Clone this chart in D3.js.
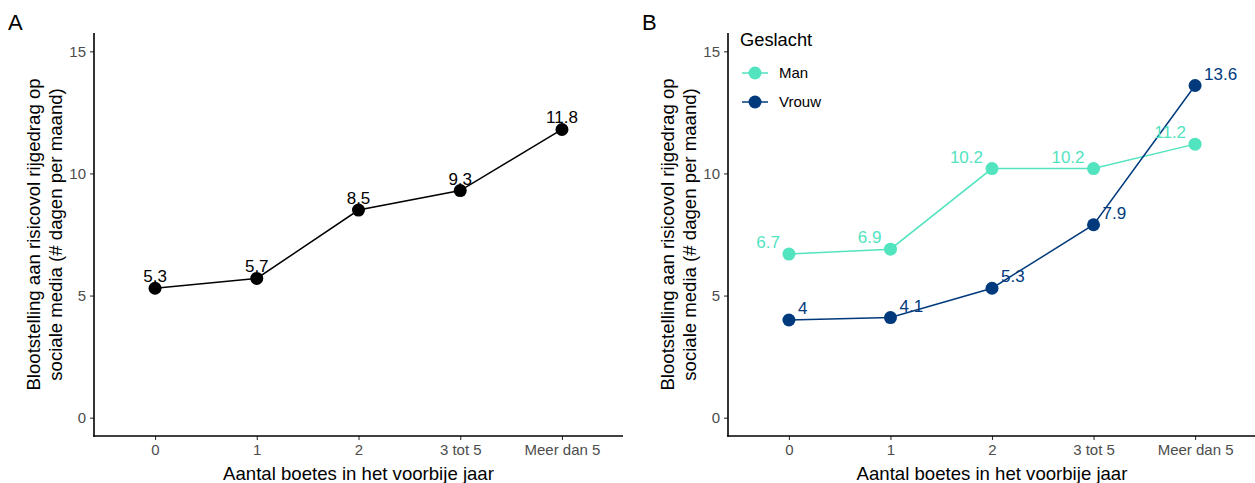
<!DOCTYPE html>
<html>
<head>
<meta charset="utf-8">
<script src="https://cdn.jsdelivr.net/npm/d3@7"></script>
<style>
  body { margin: 0; background: #fff; }
  text { font-family: Arial, "Liberation Sans", sans-serif; }
</style>
</head>
<body>
<div id="vis"></div>
<script>
const width = 1255;
const height = 483;

// data
const categories = ['0', '1', '2', '3 tot 5', 'Meer dan 5'];
const totaal = [5.3, 5.7, 8.5, 9.3, 11.8];
const man = [6.7, 6.9, 10.2, 10.2, 11.2];
const vrouw = [4, 4.1, 5.3, 7.9, 13.6];
const yTicks = [0, 5, 10, 15];
const groups = ['Man', 'Vrouw'];
const colors = ['#52e3bf', '#003a7d'];

const yTitle = ['Blootstelling aan risicovol rijgedrag op', 'sociale media (# dagen per maand)'];
const xTitle = 'Aantal boetes in het voorbije jaar';

const svg = d3.select('#vis')
    .append('svg')
    .attr('width', width)
    .attr('height', height);

const plotTop = 33, plotBottom = 436;

function panel(left, right, tag) {
    const x = d3.scalePoint()
        .domain(categories)
        .range([left, right])
        .padding(0.6);
    const y = d3.scaleLinear()
        .domain([-0.75, 15.75])
        .range([plotBottom, plotTop]);

    const g = svg.append('g');

    // axes
    const xa = g.append('g')
        .attr('transform', `translate(0,${plotBottom})`)
        .call(d3.axisBottom(x).tickSize(4).tickPadding(4));
    const ya = g.append('g')
        .attr('transform', `translate(${left},0)`)
        .call(d3.axisLeft(y).tickValues(yTicks).tickSize(4).tickPadding(4));
    [xa, ya].forEach(a => {
        a.select('.domain').remove();
        a.selectAll('.tick line').attr('stroke', '#333').attr('stroke-width', 1.1);
        a.selectAll('.tick text').attr('fill', '#4d4d4d').style('font-size', '15px')
            .style('font-family', 'Arial, "Liberation Sans", sans-serif');
    });
    // axis lines (L shape)
    g.append('line').attr('x1', left).attr('x2', left).attr('y1', plotTop).attr('y2', plotBottom + 0.8)
        .attr('stroke', '#000').attr('stroke-width', 1.6);
    g.append('line').attr('x1', left - 0.8).attr('x2', right).attr('y1', plotBottom).attr('y2', plotBottom)
        .attr('stroke', '#000').attr('stroke-width', 1.6);

    // titles
    g.append('text')
        .attr('x', (left + right) / 2)
        .attr('y', 480)
        .attr('text-anchor', 'middle')
        .style('font-size', '18.6px')
        .text(xTitle);
    const yt = g.append('text')
        .attr('transform', `translate(${left - 54},${(plotTop + plotBottom) / 2}) rotate(-90)`)
        .attr('text-anchor', 'middle')
        .style('font-size', '18.6px');
    yTitle.forEach((t, i) => {
        yt.append('tspan').attr('x', 0).attr('dy', i === 0 ? 0 : 22).text(t);
    });

    g.append('text')
        .attr('x', left - 86)
        .attr('y', 30)
        .style('font-size', '22px')
        .text(tag);

    return { g, x, y };
}

// Panel A
const A = panel(94, 623, 'A');
const lineA = d3.line().x((d, i) => A.x(categories[i])).y(d => A.y(d));
A.g.append('path')
    .datum(totaal)
    .attr('d', lineA)
    .attr('fill', 'none')
    .attr('stroke', '#000')
    .attr('stroke-width', 1.5);
A.g.selectAll('circle')
    .data(totaal)
    .join('circle')
    .attr('cx', (d, i) => A.x(categories[i]))
    .attr('cy', d => A.y(d))
    .attr('r', 6.5)
    .attr('fill', '#000');
A.g.selectAll('.lab')
    .data(totaal)
    .join('text')
    .attr('class', 'lab')
    .attr('x', (d, i) => A.x(categories[i]))
    .attr('y', d => A.y(d) - 6)
    .attr('text-anchor', 'middle')
    .style('font-size', '17px')
    .text(d => d);

// Panel B
const B = panel(728, 1256, 'B');
const series = [man, vrouw];
const lineB = d3.line().x((d, i) => B.x(categories[i])).y(d => B.y(d));
series.forEach((s, k) => {
    B.g.append('path')
        .datum(s)
        .attr('d', lineB)
        .attr('fill', 'none')
        .attr('stroke', colors[k])
        .attr('stroke-width', 1.5);
});
series.forEach((s, k) => {
    B.g.selectAll('.pt' + k)
        .data(s)
        .join('circle')
        .attr('class', 'pt' + k)
        .attr('cx', (d, i) => B.x(categories[i]))
        .attr('cy', d => B.y(d))
        .attr('r', 6.5)
        .attr('fill', colors[k]);
    B.g.selectAll('.lb' + k)
        .data(s)
        .join('text')
        .attr('class', 'lb' + k)
        .attr('x', (d, i) => B.x(categories[i]) + (k === 0 ? -9 : 9))
        .attr('y', d => B.y(d) - 6)
        .attr('text-anchor', k === 0 ? 'end' : 'start')
        .attr('fill', colors[k])
        .style('font-size', '17px')
        .text(d => d);
});

// legend
const leg = svg.append('g').attr('transform', 'translate(740,0)');
leg.append('text').attr('x', 0).attr('y', 46).style('font-size', '18.3px').text('Geslacht');
groups.forEach((gname, k) => {
    const cy = 73 + k * 29;
    leg.append('line').attr('x1', 2).attr('x2', 28).attr('y1', cy).attr('y2', cy)
        .attr('stroke', colors[k]).attr('stroke-width', 1.5);
    leg.append('circle').attr('cx', 15).attr('cy', cy).attr('r', 6.5).attr('fill', colors[k]);
    leg.append('text').attr('x', 39).attr('y', cy + 5).style('font-size', '15px').text(gname);
});
</script>
</body>
</html>
